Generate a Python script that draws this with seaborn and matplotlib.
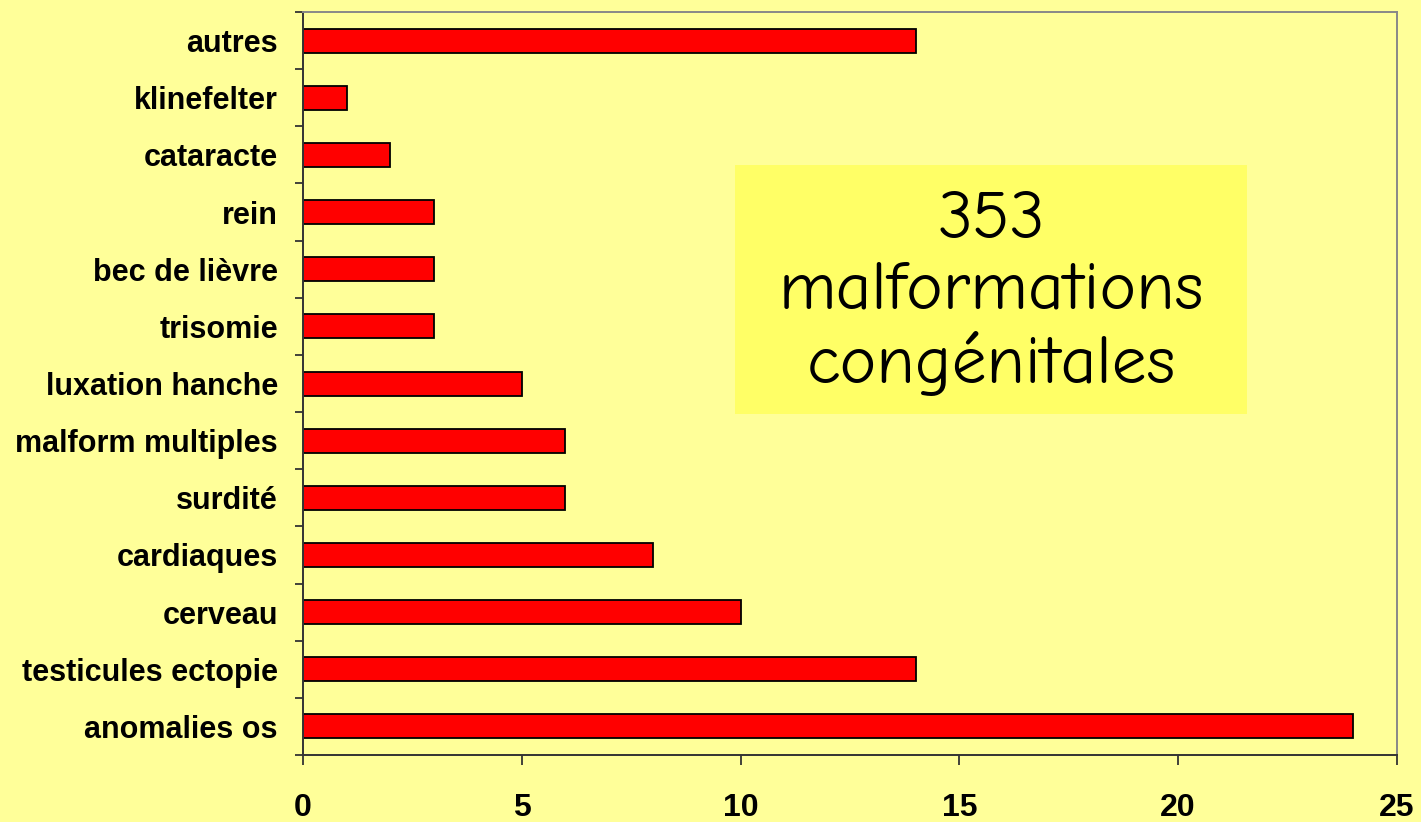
import numpy as np
import matplotlib
matplotlib.use("Agg")
import matplotlib.pyplot as plt
import seaborn as sns

# data, top to bottom as drawn
categories = ["autres", "klinefelter", "cataracte", "rein", "bec de lièvre",
              "trisomie", "luxation hanche", "malform multiples", "surdité",
              "cardiaques", "cerveau", "testicules ectopie", "anomalies os"]
counts = [14, 1, 2, 3, 3, 3, 5, 6, 6, 8, 10, 14, 24]
xticks = [0, 5, 10, 15, 20, 25]
box_text = "353\nmalformations\ncongénitales"

bg = "#FFFF99"
sns.set_style("white")
plt.rcParams["font.family"] = ["Liberation Sans", "DejaVu Sans"]
plt.rcParams["text.color"] = "black"
plt.rcParams["xtick.color"] = "black"
plt.rcParams["ytick.color"] = "black"

fig = plt.figure(figsize=(14.21, 8.22), dpi=100, facecolor=bg)
ax = fig.add_axes([0.2132, 0.0815, 0.983 - 0.2132, 0.9854 - 0.0815])
ax.set_facecolor(bg)

sns.barplot(x=counts, y=categories, orient="h", order=categories,
            color="#FF0000", saturation=1, width=0.42,
            edgecolor="black", linewidth=1.3, ax=ax)

ax.set_xlim(0, 25)
ax.set_ylim(len(categories) - 0.5, -0.5)
ax.set_xticks(xticks)
ax.set_xticklabels([str(t) for t in xticks], fontsize=23, fontweight="bold")
ax.set_yticks(np.arange(len(categories)))
ax.set_yticklabels(categories, fontsize=22, fontweight="bold")
ax.set_yticks(np.arange(-0.5, len(categories), 1), minor=True)
ax.tick_params(axis="y", which="major", length=0, pad=18, labelcolor="black")
ax.tick_params(axis="y", which="minor", length=6, width=1.3, color="#333333",
               direction="out", left=True)
ax.tick_params(axis="x", which="major", length=7, width=1.3, color="#333333",
               direction="out", pad=20, bottom=True, labelcolor="black")
ax.set_xlabel("")
ax.set_ylabel("")

for side in ["left", "bottom"]:
    ax.spines[side].set_color("#333333")
    ax.spines[side].set_linewidth(1.4)
for side in ["top", "right"]:
    ax.spines[side].set_color("#888888")
    ax.spines[side].set_linewidth(1.4)
    ax.spines[side].set_visible(True)

# text box
fig.patches.append(plt.Rectangle((735 / 1421, 1 - 414 / 822), 512 / 1421, 249 / 822,
                                 transform=fig.transFigure, facecolor="#FFFF66",
                                 edgecolor="none", zorder=3))
fig.text(991 / 1421, 1 - 294 / 822, box_text, ha="center", va="center",
         fontsize=50, linespacing=1.2, zorder=4, color="black",
         family=["Comic Neue", "Lato", "DejaVu Sans"])

fig.savefig("out.png", dpi=100, facecolor=bg)
